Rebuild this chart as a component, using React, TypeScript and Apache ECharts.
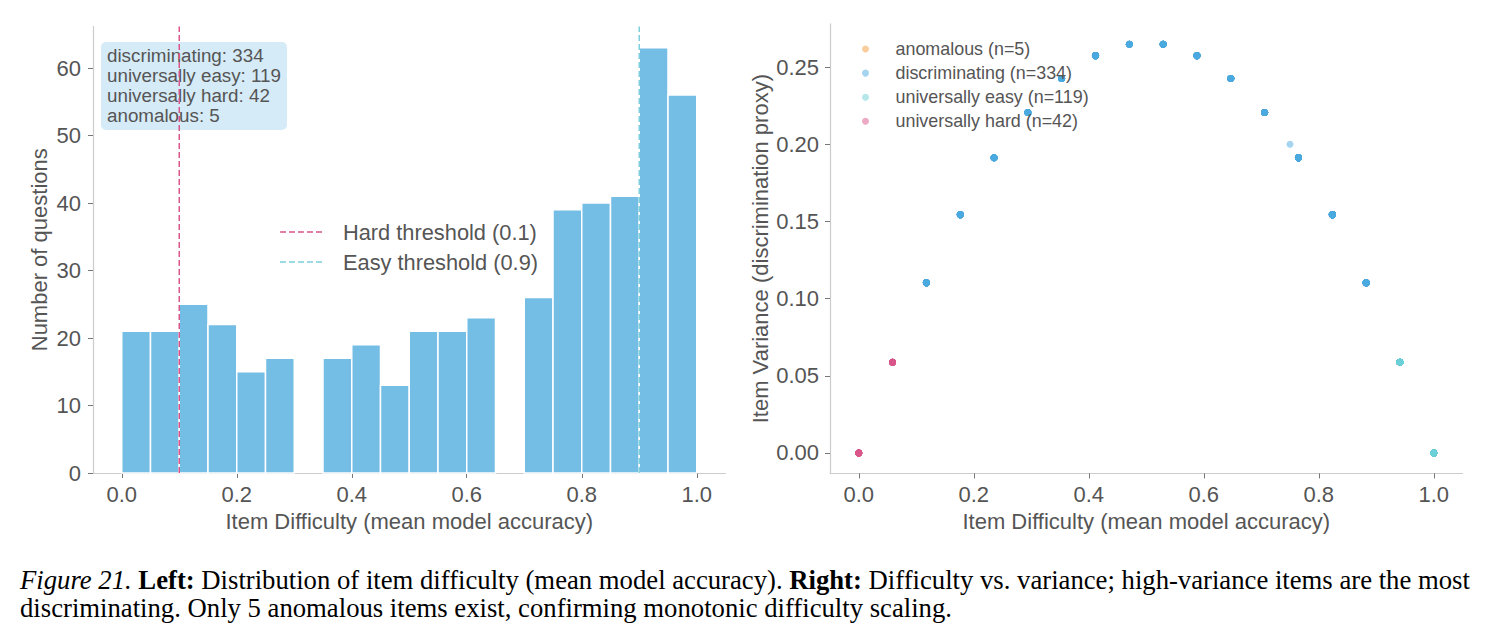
import React, { useEffect, useRef } from "react";
import * as echarts from "echarts";

// Histogram of item difficulty: 20 bins of width 0.05 over [0, 1]
const binEdges = [
  0, 0.05, 0.1, 0.15, 0.2, 0.25, 0.3, 0.35, 0.4, 0.45, 0.5, 0.55, 0.6, 0.65,
  0.7, 0.75, 0.8, 0.85, 0.9, 0.95, 1.0,
];
const binCounts = [21, 21, 25, 22, 15, 17, 0, 17, 19, 13, 21, 21, 23, 0, 26, 39, 40, 41, 63, 56];

const hardThreshold = 0.1;
const easyThreshold = 0.9;

const categoryNames = ["discriminating", "universally easy", "universally hard", "anomalous"];
const categoryTotals = [334, 119, 42, 5];

// Distinct (difficulty, variance) positions reached with 17 models
const difficultyLevels = [
  0, 0.0588, 0.1176, 0.1765, 0.2353, 0.2941, 0.3529, 0.4118, 0.4706, 0.5294,
  0.5882, 0.6471, 0.7059, 0.7647, 0.8235, 0.8824, 0.9412, 1.0,
];
const varianceLevels = [
  0, 0.0588, 0.1103, 0.1544, 0.1912, 0.2206, 0.2426, 0.2574, 0.2647, 0.2647,
  0.2574, 0.2426, 0.2206, 0.1912, 0.1544, 0.1103, 0.0588, 0,
];
// Number of items of each category sitting on each position
const anomalousItems = [0, 0, 0, 0, 0, 0, 0, 0, 0, 1, 1, 0, 0, 2, 1, 0, 0, 0];
const discriminatingItems = [0, 0, 25, 22, 15, 17, 17, 19, 13, 20, 20, 23, 26, 36, 39, 41, 0, 0];
const easyItems = [0, 0, 0, 0, 0, 0, 0, 0, 0, 0, 0, 0, 0, 0, 0, 0, 63, 56];
const hardItems = [21, 21, 0, 0, 0, 0, 0, 0, 0, 0, 0, 0, 0, 0, 0, 0, 0, 0];
// An item answered by 16 models only
const extraDiscriminatingX = [0.75];
const extraDiscriminatingY = [0.2];

const histXTicks = [0, 0.2, 0.4, 0.6, 0.8, 1.0];
const histYTicks = [0, 10, 20, 30, 40, 50, 60];
const scatterXTicks = [0, 0.2, 0.4, 0.6, 0.8, 1.0];
const scatterYTicks = [0, 0.05, 0.1, 0.15, 0.2, 0.25];

const HIST_Y_MAX = 66.15;
const VAR_Y_MIN = -0.01324;
const VAR_Y_MAX = 0.27794;

const TEXT = "#555555";
const SPINE = "#cccccc";
const TICK = "#777777";
const BAR = "#74bde5";
const PINK = "#d9558a";
const CYAN = "#7dcfdb";
const FONT = "Liberation Sans";
const SERIF = "Liberation Serif";
const CAPTION_SIZE = 26.7;

function expand(counts: number[]) {
  const pts: number[][] = [];
  counts.forEach((c, i) => {
    for (let k = 0; k < c; k++) pts.push([difficultyLevels[i], varianceLevels[i]]);
  });
  return pts;
}

function axisCommon(ticks: number[], digits: number, margin: number) {
  return {
    type: "value" as const,
    axisLine: { show: true, onZero: false, lineStyle: { color: SPINE, width: 1.2 } },
    axisTick: { show: true, length: 5, customValues: ticks, lineStyle: { color: TICK, width: 1 } },
    axisLabel: {
      customValues: ticks,
      fontSize: 22,
      color: TEXT,
      fontFamily: FONT,
      margin,
      formatter: (v: number) => v.toFixed(digits),
    },
    splitLine: { show: false },
    nameLocation: "middle" as const,
    nameTextStyle: { fontSize: 22, color: TEXT, fontFamily: FONT },
  };
}

export default function App() {
  const ref = useRef<HTMLDivElement>(null);

  useEffect(() => {
    const chart = echarts.init(ref.current!, null, { renderer: "svg", width: 1491, height: 641 });

    const histData = binCounts
      .map((c, i) => [binEdges[i], binEdges[i + 1], c])
      .filter((d) => d[2] > 0);

    const legendNames = [
      `anomalous (n=${categoryTotals[3]})`,
      `discriminating (n=${categoryTotals[0]})`,
      `universally easy (n=${categoryTotals[1]})`,
      `universally hard (n=${categoryTotals[2]})`,
    ];

    const discriminatingPts = expand(discriminatingItems).concat(
      extraDiscriminatingX.map((x, i) => [x, extraDiscriminatingY[i]])
    );

    const scatterBase = {
      type: "scatter" as const,
      xAxisIndex: 1,
      yAxisIndex: 1,
      symbolSize: 7,
    };

    const boxText = categoryNames.map((n, i) => `${n}: ${categoryTotals[i]}`).join("\n");

    chart.setOption({
      animation: false,
      backgroundColor: "#ffffff",
      textStyle: { fontFamily: FONT },
      grid: [
        { left: 93, top: 26.5, width: 632.5, height: 446.5 },
        { left: 830, top: 23.9, width: 632.5, height: 449.5 },
      ],
      xAxis: [
        {
          ...axisCommon(histXTicks, 1, 10),
          gridIndex: 0,
          min: -0.05,
          max: 1.05,
          name: "Item Difficulty (mean model accuracy)",
          nameGap: 37,
        },
        {
          ...axisCommon(scatterXTicks, 1, 10),
          gridIndex: 1,
          min: -0.05,
          max: 1.05,
          name: "Item Difficulty (mean model accuracy)",
          nameGap: 37,
        },
      ],
      yAxis: [
        {
          ...axisCommon(histYTicks, 0, 12),
          gridIndex: 0,
          min: 0,
          max: HIST_Y_MAX,
          name: "Number of questions",
          nameGap: 43,
        },
        {
          ...axisCommon(scatterYTicks, 2, 11),
          gridIndex: 1,
          min: VAR_Y_MIN,
          max: VAR_Y_MAX,
          name: "Item Variance (discrimination proxy)",
          nameGap: 59,
        },
      ],
      legend: {
        data: legendNames,
        orient: "vertical",
        left: 857,
        top: 35,
        icon: "circle",
        itemWidth: 50,
        itemHeight: 7,
        itemGap: 6.1,
        textStyle: { fontSize: 17.9, lineHeight: 18, color: TEXT, fontFamily: FONT },
        selectedMode: false,
      },
      graphic: [
        {
          type: "rect",
          left: 101,
          top: 42,
          shape: { width: 186, height: 88, r: 5 },
          style: { fill: "#d5ebf7" },
        },
        {
          type: "text",
          left: 107,
          top: 45,
          style: { text: boxText, fontSize: 18.8, lineHeight: 20, fill: TEXT, fontFamily: FONT },
        },
        {
          type: "line",
          shape: { x1: 280, y1: 232, x2: 323, y2: 232 },
          style: { stroke: PINK, lineWidth: 1.5, lineDash: [6, 3] },
        },
        {
          type: "text",
          x: 343,
          y: 232,
          style: {
            text: "Hard threshold (0.1)",
            fontSize: 21.8,
            fill: TEXT,
            fontFamily: FONT,
            verticalAlign: "middle",
          },
        },
        {
          type: "line",
          shape: { x1: 280, y1: 262, x2: 323, y2: 262 },
          style: { stroke: CYAN, lineWidth: 1.5, lineDash: [6, 3] },
        },
        {
          type: "text",
          x: 343,
          y: 262,
          style: {
            text: "Easy threshold (0.9)",
            fontSize: 21.8,
            fill: TEXT,
            fontFamily: FONT,
            verticalAlign: "middle",
          },
        },
        {
          type: "text",
          left: 20,
          top: 566,
          style: {
            text:
              "{i|Figure 21.} {b|Left:} Distribution of item difficulty (mean model accuracy). {b|Right:} Difficulty vs. variance; high-variance items are the most\ndiscriminating. Only 5 anomalous items exist, confirming monotonic difficulty scaling.",
            fontSize: CAPTION_SIZE,
            lineHeight: 28,
            fill: "#000000",
            fontFamily: SERIF,
            rich: {
              i: { fontStyle: "italic", fontSize: CAPTION_SIZE, fontFamily: SERIF, fill: "#000000" },
              b: { fontWeight: "bold", fontSize: CAPTION_SIZE, fontFamily: SERIF, fill: "#000000" },
            },
          },
        },
      ],
      series: [
        {
          type: "custom",
          name: "difficulty histogram",
          xAxisIndex: 0,
          yAxisIndex: 0,
          data: histData,
          encode: { x: [0, 1], y: 2 },
          renderItem: (_params: any, api: any) => {
            const p0 = api.coord([api.value(0), 0]);
            const p1 = api.coord([api.value(1), api.value(2)]);
            return {
              type: "rect",
              shape: { x: p0[0], y: p1[1], width: p1[0] - p0[0], height: p0[1] - p1[1] },
              style: { fill: BAR, stroke: "#ffffff", lineWidth: 1.5 },
            };
          },
        },
        {
          type: "line",
          name: "Hard threshold (0.1)",
          xAxisIndex: 0,
          yAxisIndex: 0,
          data: [
            [hardThreshold, 0],
            [hardThreshold, HIST_Y_MAX],
          ],
          symbol: "none",
          z: 4,
          lineStyle: { color: PINK, width: 1.5, type: [6, 3] },
        },
        {
          type: "line",
          name: "Easy threshold (0.9)",
          xAxisIndex: 0,
          yAxisIndex: 0,
          data: [
            [easyThreshold, 0],
            [easyThreshold, HIST_Y_MAX],
          ],
          symbol: "none",
          z: 4,
          lineStyle: { color: CYAN, width: 1.5, type: [6, 3] },
        },
        {
          ...scatterBase,
          name: legendNames[0],
          data: expand(anomalousItems),
          itemStyle: { color: "#f39b3b", opacity: 0.5 },
        },
        {
          ...scatterBase,
          name: legendNames[1],
          data: discriminatingPts,
          itemStyle: { color: "#4aa9e0", opacity: 0.5 },
        },
        {
          ...scatterBase,
          name: legendNames[2],
          data: expand(easyItems),
          itemStyle: { color: "#6ccfd8", opacity: 0.5 },
        },
        {
          ...scatterBase,
          name: legendNames[3],
          data: expand(hardItems),
          itemStyle: { color: "#d9558a", opacity: 0.5 },
        },
      ],
    });

    return () => chart.dispose();
  }, []);

  return (
    <div
      ref={ref}
      style={{ position: "fixed", left: 0, top: 0, width: 1491, height: 641, background: "#ffffff" }}
    />
  );
}
